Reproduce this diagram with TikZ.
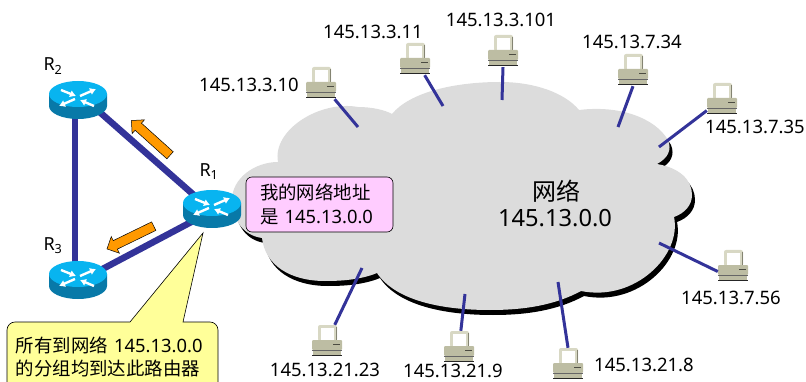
\documentclass[tikz,border=0pt]{standalone}
\usepackage{fontspec}
\setmainfont{Noto Sans}
\newfontfamily\cjk{Noto Sans CJK SC}
\usetikzlibrary{arrows.meta, shapes.arrows, shapes.geometric}

\definecolor{cloudgray}{HTML}{DCDCDC}
\definecolor{linkblue}{HTML}{333399}
\definecolor{routertop}{HTML}{08B4F0}
\definecolor{routerside}{HTML}{0879A8}
\definecolor{pcbeige}{HTML}{BDBDA3}
\definecolor{pclight}{HTML}{D8D8C4}
\definecolor{notepink}{HTML}{FFCCFF}
\definecolor{noteyellow}{HTML}{FFFF99}
\definecolor{arroworange}{HTML}{FF9900}

\newcommand{\cloudpath}{(278,162)
    .. controls (272,130) and (320,100) .. (358,107)
    .. controls (372,107) and (385,110) .. (392,114)
    .. controls (410,92) and (455,82) .. (500,82)
    .. controls (535,82) and (565,93) .. (579,110)
    .. controls (620,105) and (655,118) .. (668,140)
    .. controls (672,150) and (668,158) .. (657,164)
    .. controls (680,168) and (692,180) .. (692,195)
    .. controls (692,205) and (685,213) .. (674,217)
    .. controls (682,255) and (635,302) .. (581,291)
    .. controls (555,305) and (525,310) .. (490,310)
    .. controls (440,310) and (395,300) .. (377,273)
    .. controls (360,280) and (340,281) .. (325,281)
    .. controls (290,281) and (265,265) .. (262,238)
    .. controls (240,235) and (232,215) .. (232,200)
    .. controls (232,178) and (255,162) .. (278,162) -- cycle}

\tikzset{
    routerbox/.style={ellipse, minimum width=58pt, minimum height=38pt, inner sep=0pt},
    pcbox/.style={rectangle, minimum width=30pt, minimum height=32pt, inner sep=0pt},
    addr/.style={inner sep=0pt, font=\fontsize{18.5}{22}\selectfont},
    rname/.style={inner sep=0pt, font=\fontsize{18}{20}\selectfont},
    thicklink/.style={linkblue, line width=6.5pt},
    pclink/.style={linkblue, line width=3pt},
    moveflow/.style={single arrow, draw=black, fill=arroworange, line width=0.5pt,
        inner xsep=0pt, inner ysep=4.5pt, minimum width=18pt, minimum height=52pt,
        single arrow head extend=4.5pt, single arrow head indent=0pt},
    routerarrow/.style={white, line width=2.4pt, -{Latex[length=6pt, width=7.5pt]}},
    routericon/.pic={
        \fill[routerside] (-29,-6) -- (-29,6) arc[start angle=180, end angle=0, x radius=29, y radius=13]
            -- (29,-6) -- cycle;
        \fill[routertop] (0,-6) ellipse [x radius=29, y radius=13];
        \draw[routerarrow] (-17,-10) -- (-2,-4);
        \draw[routerarrow] (2,-4) -- (18,-11);
        \draw[routerarrow] (-3,-1) -- (-19,6);
        \draw[routerarrow] (16,6) -- (2,0);
    },
    pcicon/.pic={
        \fill[pclight, rounded corners=2pt] (-9,-16) rectangle (10,0);
        \fill[pcbeige!70!black] (8.5,-14) rectangle (10,0);
        \fill[white] (-6,-13) rectangle (7,-1);
        \fill[pcbeige, rounded corners=1pt] (-15,-1) rectangle (15,9);
        \fill[pcbeige!40!black] (6,3) rectangle (13,4.2);
        \fill[black!60] (-15,8.8) rectangle (15,9.8);
        \fill[pcbeige] (-14,9.8) rectangle (14,14);
        \fill[black!85] (-15,14) rectangle (15,15);
    },
}

\newcommand{\pcnode}[2]{\node[pcbox] (#1) at (#2) {}; \pic at (#1) {pcicon};}

\begin{document}
\begin{tikzpicture}[x=1pt, y=-1pt]
    \useasboundingbox (0,0) rectangle (806,382);

    % cloud and its shadow
    \fill[black, shift={(3,5)}] \cloudpath;
    \fill[cloudgray] \cloudpath;
    \node[inner sep=0pt, font=\fontsize{24}{26}\selectfont\cjk] (netname) at (556,191) {网络};
    \node[inner sep=0pt, font=\fontsize{23.7}{26}\selectfont] (netaddr) at (555,218) {145.13.0.0};

    % routers
    \node[routerbox] (r_1) at (212,209) {};
    \node[routerbox] (r_2) at (78,100) {};
    \node[routerbox] (r_3) at (78,280) {};
    \node[rname] (l_1) at (209,172) {R\textsubscript{1}};
    \node[rname] (l_2) at (53,66) {R\textsubscript{2}};
    \node[rname] (l_3) at (53,246) {R\textsubscript{3}};

    \draw[thicklink] ([yshift=7pt]r_2.center) -- ([yshift=-2pt]r_1.center);
    \draw[thicklink] ([yshift=-2pt]r_3.center) -- ([yshift=-2pt]r_1.center);
    \draw[thicklink] ([xshift=-3pt]r_2.center) -- ([xshift=-3pt]r_3.center);

    \pic at (r_1) {routericon};
    \pic at (r_2) {routericon};
    \pic at (r_3) {routericon};

    \node[moveflow, rotate=138] (flow_1) at (152.5,139.5) {};
    \node[moveflow, rotate=206] (flow_2) at (132.5,236.5) {};

    % hosts
    \pcnode{pc_1}{321,83}
    \pcnode{pc_2}{415,59}
    \pcnode{pc_3}{503,51}
    \pcnode{pc_4}{633,70}
    \pcnode{pc_5}{722,99}
    \pcnode{pc_6}{733,266}
    \pcnode{pc_7}{568,364}
    \pcnode{pc_8}{459,347}
    \pcnode{pc_9}{327,341}

    \node[addr] (a_1) at (249,85) {145.13.3.10};
    \node[addr] (a_2) at (373,32) {145.13.3.11};
    \node[addr] (a_3) at (501,20) {145.13.3.101};
    \node[addr] (a_4) at (632,42) {145.13.7.34};
    \node[addr] (a_5) at (755,127) {145.13.7.35};
    \node[addr] (a_6) at (731,298) {145.13.7.56};
    \node[addr] (a_7) at (644,365) {145.13.21.8};
    \node[addr] (a_8) at (453,371) {145.13.21.9};
    \node[addr] (a_9) at (325,370) {145.13.21.23};

    \coordinate (e_1) at (358,127);
    \coordinate (e_2) at (443,106);
    \coordinate (e_3) at (502,100);
    \coordinate (e_4) at (618,127);
    \coordinate (e_5) at (659,147);
    \coordinate (e_6) at (659,243);
    \coordinate (e_7) at (558,282);
    \coordinate (e_8) at (465,294);
    \coordinate (e_9) at (362,268);

    \draw[pclink] (pc_1) -- (e_1);
    \draw[pclink] (pc_2) -- (e_2);
    \draw[pclink] (pc_3.south) -- (e_3);
    \draw[pclink] (pc_4.south) -- (e_4);
    \draw[pclink] (pc_5) -- (e_5);
    \draw[pclink] (pc_6.200) -- (e_6);
    \draw[pclink] (pc_7.north) -- (e_7);
    \draw[pclink] (pc_8) -- (e_8);
    \draw[pclink] (pc_9) -- (e_9);

    % notes
    \node[draw=black, fill=notepink, rounded corners=6pt, line width=0.6pt, inner xsep=14pt, inner ysep=0pt,
        minimum height=55pt, text width=119pt, align=left,
        font=\fontsize{18.4}{24}\selectfont] (selfnote) at (319.5,204.5)
        {{\cjk 我的网络地址}\\{\cjk 是} 145.13.0.0};

    \draw[fill=noteyellow, line width=0.6pt, rounded corners=8pt]
        (7,400) -- (7,322) [sharp corners] -- (130,322) -- (203,233) -- (183,322)
        [rounded corners=8pt] -- (218,322) -- (218,400) -- cycle;
    \node[inner sep=0pt, text width=195pt, align=left, font=\fontsize{18.4}{23}\selectfont] (destnote) at (113.5,356.5)
        {{\cjk 所有到网络} 145.13.0.0\\{\cjk 的分组均到达此路由器}};
\end{tikzpicture}
\end{document}
